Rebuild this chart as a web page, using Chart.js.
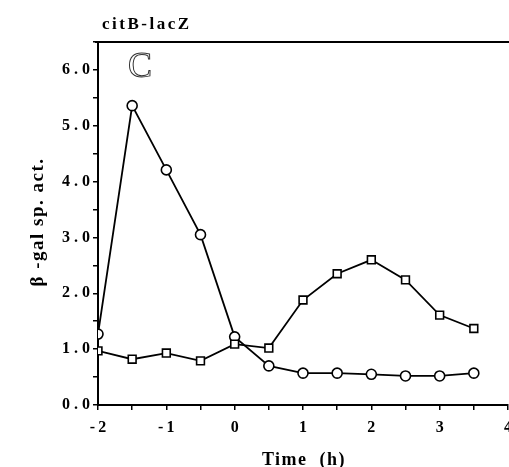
<!DOCTYPE html>
<html><head><meta charset="utf-8">
<script src="https://cdn.jsdelivr.net/npm/chart.js@4/dist/chart.umd.min.js"></script>
<style>html,body{margin:0;padding:0;background:#fff;overflow:hidden;width:509px;height:467px}canvas{display:block}</style>
</head><body>
<canvas id="c" width="520" height="467" style="width:520px;height:467px"></canvas>
<script>
const times = [-2,-1.5,-1,-0.5,0,0.5,1,1.5,2,2.5,3,3.5];
const circleSeries = [1.27,5.36,4.21,3.05,1.22,0.70,0.57,0.57,0.55,0.52,0.52,0.57];
const squareSeries = [0.97,0.82,0.93,0.79,1.09,1.02,1.88,2.35,2.60,2.24,1.61,1.37];
const chartTitle = 'citB-lacZ';
const panelLetter = 'C';
const yTitle = 'β -gal sp. act.';
const xTitle = 'Time  (h)';

const SERIF = '"Liberation Serif","DejaVu Serif",serif';

const deco = {
  id:'deco',
  afterDraw(chart){
    const ctx = chart.ctx, a = chart.chartArea;
    ctx.save();
    ctx.strokeStyle='#000'; ctx.lineWidth=2;
    ctx.beginPath(); ctx.moveTo(a.left-3, a.top); ctx.lineTo(chart.width, a.top); ctx.stroke();
    ctx.fillStyle='#000';
    ctx.letterSpacing='2.5px';
    ctx.font='bold 17px '+SERIF; ctx.textAlign='left'; ctx.textBaseline='alphabetic';
    ctx.fillText(chartTitle, 102, 29);
    ctx.letterSpacing='1.5px';
    ctx.font='bold 18px '+SERIF; ctx.textAlign='center';
    ctx.fillText(xTitle, 304, 465);
    ctx.save();
    ctx.letterSpacing='1.5px';
    ctx.translate(43, 222); ctx.rotate(-Math.PI/2);
    ctx.font='bold 19px '+SERIF; ctx.textAlign='center';
    ctx.fillText(yTitle, 0, 0);
    ctx.restore();
    ctx.letterSpacing='0px';
    ctx.font='36px '+SERIF; ctx.textAlign='left';
    ctx.lineWidth=1; ctx.strokeStyle='#333';
    ctx.strokeText(panelLetter, 128, 77);
    ctx.restore();
  }
};

new Chart(document.getElementById('c'), {
  type:'line',
  data:{
    datasets:[
      {data: times.map((t,i)=>({x:t,y:squareSeries[i]})), borderColor:'#000', borderWidth:1.8,
       pointStyle:'rect', pointRadius:5.5, pointBackgroundColor:'#fff', pointBorderColor:'#000', pointBorderWidth:1.6, tension:0},
      {data: times.map((t,i)=>({x:t,y:circleSeries[i]})), borderColor:'#000', borderWidth:1.8,
       pointStyle:'circle', pointRadius:5, pointBackgroundColor:'#fff', pointBorderColor:'#000', pointBorderWidth:1.6, tension:0}
    ]
  },
  options:{
    responsive:false, animation:false, devicePixelRatio:1,
    layout:{padding:{top:42,right:11,left:0,bottom:0}},
    plugins:{legend:{display:false}, tooltip:{enabled:false}},
    scales:{
      x:{type:'linear', min:-2, max:4,
         afterFit(s){s.height=62;},
         border:{color:'#000', width:2},
         grid:{drawOnChartArea:false, drawTicks:true, tickLength:5, color:'#000', lineWidth:1.5},
         ticks:{stepSize:0.5, autoSkip:false, maxRotation:0, padding:8, color:'#000',
                font:{family:SERIF, size:16, weight:'bold'},
                callback:v=>Number.isInteger(v)?(v<0?'-\u2009'+Math.abs(v):String(v)):''}},
      y:{min:0, max:6.5,
         afterFit(s){s.width=98;},
         border:{color:'#000', width:2},
         grid:{drawOnChartArea:false, drawTicks:true, tickLength:5, color:'#000', lineWidth:1.5},
         ticks:{stepSize:0.5, autoSkip:false, padding:3, color:'#000',
                font:{family:SERIF, size:16, weight:'bold'},
                callback:v=>Number.isInteger(v)?(v+' . 0'):''}}
    }
  },
  plugins:[deco]
});
</script>
</body></html>
